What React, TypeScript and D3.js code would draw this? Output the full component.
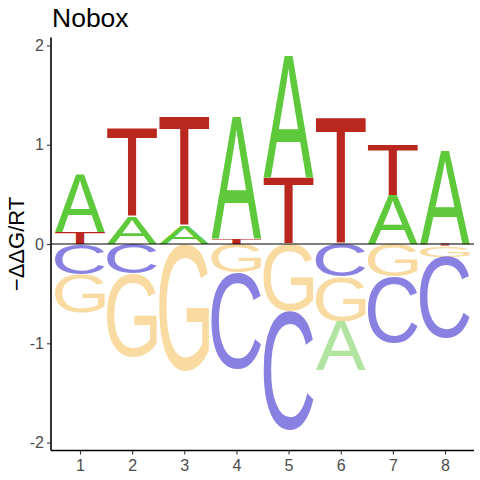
import { useEffect, useRef } from "react";
import * as d3 from "d3";

// energy logo values per position (positive = above zero, negative = below)
const positions = [1, 2, 3, 4, 5, 6, 7, 8];
const aVals = [0.575, 0.275, 0.18, 1.225, 1.23, -0.49, 0.484, 0.947];
const cVals = [-0.31, -0.3, 0, -0.97, -1.2, -0.33, -0.665, -0.82];
const gVals = [-0.38, -0.835, -1.277, -0.29, -0.675, -0.45, -0.33, -0.11];
const tVals = [0.12, 0.89, 1.1, 0.055, 0.665, 1.27, 0.51, -0.02];
const yTicks = [2, 1, 0, -1, -2];

const posColors: Record<string, string> = {
  A: "#5dc93b",
  C: "#3f33c8",
  G: "#f3b43e",
  T: "#ba271e",
};
const negColors: Record<string, string> = {
  A: "#b2e4a1",
  C: "#8981e2",
  G: "#f9daa0",
  T: "#da8682",
};

const W = 480;
const H = 480;
const letterFont = "Liberation Sans";
const letterWeight = 400;
const labelFont = "'Liberation Sans', Arial, sans-serif";

const App = () => {
  const svgRef = useRef<SVGSVGElement>(null);

  useEffect(() => {
    if (!svgRef.current) return;
    const svg = d3.select(svgRef.current);
    svg.selectAll("*").remove();

    const x = d3.scaleLinear().domain([0.444, 8.556]).range([51, 474]);
    const y = d3.scaleLinear().domain([-2.08, 2.08]).range([450.5, 37.5]);
    const colWidth = 0.96;

    // ink box of each glyph so it can be stretched to its cell
    const ctx = document.createElement("canvas").getContext("2d")!;
    ctx.font = `${letterWeight} 100px "${letterFont}"`;
    const metrics: Record<string, TextMetrics> = {};
    ["A", "C", "G", "T"].forEach(l => (metrics[l] = ctx.measureText(l)));

    const letters = svg.append("g");
    positions.forEach((p, i) => {
      const vals = [
        { l: "A", v: aVals[i] },
        { l: "C", v: cVals[i] },
        { l: "G", v: gVals[i] },
        { l: "T", v: tVals[i] },
      ];
      const pos = vals.filter(d => d.v > 0.003).sort((a, b) => a.v - b.v);
      const neg = vals.filter(d => d.v < -0.003).sort((a, b) => b.v - a.v);
      const draw = (l: string, lo: number, hi: number, color: string) => {
        const m = metrics[l];
        const x0 = x(p - colWidth / 2);
        const x1 = x(p + colWidth / 2);
        const yTop = y(hi);
        const yBot = y(lo);
        const inkW = m.actualBoundingBoxLeft + m.actualBoundingBoxRight;
        const inkH = m.actualBoundingBoxAscent + m.actualBoundingBoxDescent;
        const sx = (x1 - x0) / inkW;
        const sy = (yBot - yTop) / inkH;
        letters
          .append("text")
          .text(l)
          .attr("font-family", letterFont)
          .attr("font-weight", letterWeight)
          .attr("font-size", 100)
          .attr("fill", color)
          .attr(
            "transform",
            `translate(${x0 + m.actualBoundingBoxLeft * sx},${yTop + m.actualBoundingBoxAscent * sy}) scale(${sx},${sy})`
          );
      };
      let acc = 0;
      pos.forEach(d => {
        draw(d.l, acc, acc + d.v, posColors[d.l]);
        acc += d.v;
      });
      acc = 0;
      neg.forEach(d => {
        draw(d.l, acc + d.v, acc, negColors[d.l]);
        acc += d.v;
      });
    });

    // zero line
    svg
      .append("line")
      .attr("x1", 51)
      .attr("x2", 474)
      .attr("y1", y(0))
      .attr("y2", y(0))
      .attr("stroke", "#000")
      .attr("stroke-width", 1);

    // axes
    const yAxis = svg
      .append("g")
      .attr("transform", "translate(51,0)")
      .call(d3.axisLeft(y).tickValues(yTicks).tickSize(4).tickPadding(3).tickFormat(d => String(d)));
    const xAxis = svg
      .append("g")
      .attr("transform", "translate(0,450.5)")
      .call(d3.axisBottom(x).tickValues(positions).tickSize(4).tickPadding(5).tickFormat(d => String(d)));
    [yAxis, xAxis].forEach(a => {
      a.select(".domain").attr("stroke", "#000").attr("stroke-width", 1.6);
      a.selectAll(".tick line").attr("stroke", "#333").attr("stroke-width", 1.1);
      a.selectAll(".tick text")
        .attr("fill", "#4d4d4d")
        .attr("font-size", 16)
        .attr("font-family", labelFont);
    });
    yAxis.select(".domain").attr("d", `M0,${y.range()[0]}V${y.range()[1]}`);
    xAxis.select(".domain").attr("d", `M${x.range()[0]},0H${x.range()[1]}`);

    svg
      .append("text")
      .attr("x", 52)
      .attr("y", 27)
      .attr("font-family", labelFont)
      .attr("font-size", 26.5)
      .attr("fill", "#000")
      .text("Nobox");

    svg
      .append("text")
      .attr("transform", `translate(24,${y(0)}) rotate(-90)`)
      .attr("text-anchor", "middle")
      .attr("font-family", labelFont)
      .attr("font-size", 22)
      .attr("fill", "#000")
      .text("\u2212\u0394\u0394G/RT");
  }, []);

  return (
    <svg
      ref={svgRef}
      width={W}
      height={H}
      style={{ position: "absolute", left: 0, top: 0, background: "#fff" }}
    />
  );
};

export default App;
